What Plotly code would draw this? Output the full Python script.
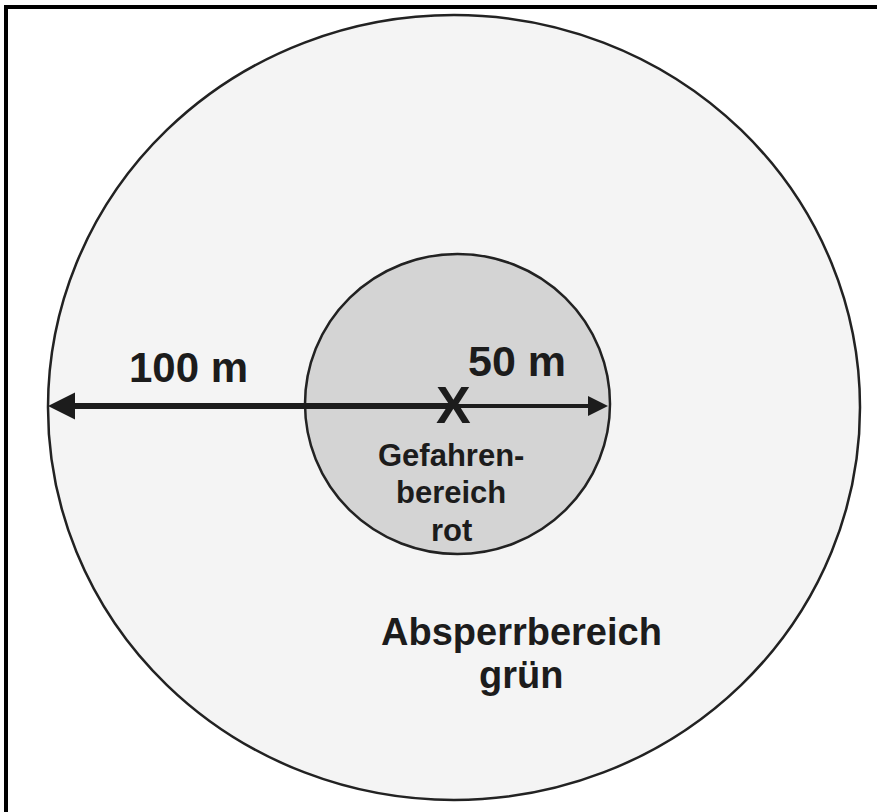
import plotly.graph_objects as go

# ---- data ----
zone_names = ["Absperrbereich grün", "Gefahrenbereich rot"]
zone_distance_m = [100, 50]
distance_labels = ["100 m", "50 m"]
outer_zone_lines = ["Absperrbereich", "grün"]
inner_zone_lines = ["Gefahren-", "bereich", "rot"]
center_mark = "X"

# ---- drawing (diagram units: 1 unit = 1 px, origin at the centre mark) ----
W, H = 877, 812
CX, CY = 455, 406  # pixel position of origin
FONT = "Liberation Sans, Arial, sans-serif"
INK = "#1c1c1c"

fig = go.Figure()
# invisible trace to establish axes
fig.add_trace(go.Scatter(x=[0], y=[0], mode="markers", marker=dict(opacity=0), hoverinfo="skip", showlegend=False))

shapes = []
# outer zone (100 m)
shapes.append(dict(type="circle", xref="x", yref="y", x0=-407, x1=405, y0=-394, y1=391,
                   fillcolor="#f4f4f4", line=dict(color="#222222", width=2.5), layer="below"))
# inner zone (50 m)
shapes.append(dict(type="circle", xref="x", yref="y", x0=-150, x1=155, y0=-148, y1=152,
                   fillcolor="#d4d4d4", line=dict(color="#222222", width=2.5), layer="below"))
# frame (top and left edges)
shapes.append(dict(type="line", xref="x", yref="y", x0=-CX + 5, x1=W - CX, y0=CY - 7, y1=CY - 7,
                   line=dict(color="black", width=4)))
shapes.append(dict(type="line", xref="x", yref="y", x0=-CX + 6, x1=-CX + 6, y0=CY - 5, y1=CY - H,
                   line=dict(color="black", width=4)))

ann = []
# radius arrows
ann.append(dict(x=-407, y=0, ax=0, ay=0, xref="x", yref="y", axref="x", ayref="y", text="",
                showarrow=True, arrowhead=2, arrowwidth=6, arrowsize=0.9, arrowcolor=INK))
ann.append(dict(x=153, y=0, ax=0, ay=0, xref="x", yref="y", axref="x", ayref="y", text="",
                showarrow=True, arrowhead=2, arrowwidth=4, arrowsize=1.0, arrowcolor=INK))

# centre mark
ann.append(dict(x=-2, y=1, xref="x", yref="y", text=f"<b>{center_mark}</b>", showarrow=False,
                font=dict(family=FONT, size=52, color=INK), xanchor="center", yanchor="middle"))

# distance labels
ann.append(dict(x=-267, y=39, xref="x", yref="y", text=f"<b>{distance_labels[0]}</b>", showarrow=False,
                font=dict(family=FONT, size=42, color=INK), xanchor="center", yanchor="middle"))
ann.append(dict(x=62, y=45, xref="x", yref="y", text=f"<b>{distance_labels[1]}</b>", showarrow=False,
                font=dict(family=FONT, size=43, color=INK), xanchor="center", yanchor="middle"))

# inner zone label
for txt, ypix in zip(inner_zone_lines, [455, 492, 530]):
    ann.append(dict(x=-4, y=CY - ypix, xref="x", yref="y", text=f"<b>{txt}</b>", showarrow=False,
                    font=dict(family=FONT, size=31, color=INK), xanchor="center", yanchor="middle"))
# outer zone label
for txt, ypix in zip(outer_zone_lines, [632, 675]):
    ann.append(dict(x=66, y=CY - ypix, xref="x", yref="y", text=f"<b>{txt}</b>", showarrow=False,
                    font=dict(family=FONT, size=38, color=INK), xanchor="center", yanchor="middle"))

fig.update_layout(
    width=W, height=H,
    margin=dict(l=0, r=0, t=0, b=0),
    paper_bgcolor="white", plot_bgcolor="white",
    xaxis=dict(range=[-CX, W - CX], visible=False, fixedrange=True),
    yaxis=dict(range=[CY - H, CY], visible=False, fixedrange=True),
    shapes=shapes, annotations=ann, showlegend=False,
)

fig.write_html("out.html", config={"displayModeBar": False},
               post_script="document.body.style.margin='0';document.body.style.overflow='hidden';")
